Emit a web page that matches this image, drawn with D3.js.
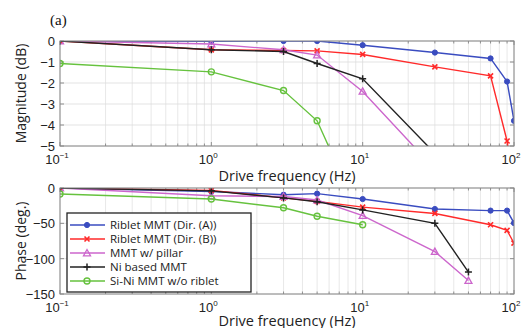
<!DOCTYPE html>
<html>
<head>
<meta charset="utf-8">
<script src="https://cdn.jsdelivr.net/npm/d3@7"></script>
<style>
  body { margin: 0; background: #fff; }
  svg { display: block; }
</style>
</head>
<body>
<div id="chart"></div>
<script>
// series labels
const seriesNames = ["Riblet MMT (Dir. (A))", "Riblet MMT (Dir. (B))", "MMT w/ pillar", "Ni based MMT", "Si-Ni MMT w/o riblet"];

// drive frequencies (Hz) per series
const freqA = [0.1, 1, 3, 5, 10, 30, 70, 90, 100];
const freqB = [0.1, 1, 3, 5, 10, 30, 70, 90, 100];
const freqPillar = [0.1, 1, 3, 5, 10, 30, 50];
const freqNi = [0.1, 1, 3, 5, 10, 30, 50];
const freqSiNi = [0.1, 1, 3, 5, 10];

// magnitude (dB)
const magA = [0, -0.02, 0, 0, -0.2, -0.55, -0.83, -1.93, -3.8];
const magB = [0, -0.42, -0.45, -0.47, -0.64, -1.23, -1.66, -4.76, -7];
const magPillar = [0, -0.14, -0.42, -0.67, -2.4, -6.1, -7.6];
const magNi = [0, -0.42, -0.5, -1.07, -1.8, -5.35, -7.2];
const magSiNi = [-1.07, -1.47, -2.36, -3.8, -8.6];

// phase (deg.)
const phaseA = [0, -5, -9.5, -8, -15.6, -29.7, -32, -32, -49.6];
const phaseB = [0, -3.3, -14, -19, -27, -36, -52, -60, -78];
const phasePillar = [0, -11, -12, -17, -39, -90, -131];
const phaseNi = [0, -4, -14, -19.4, -31, -50, -119];
const phaseSiNi = [-8.5, -15.6, -28, -40, -52];

const seriesColors = ["#3a4cc0", "#ff2a2a", "#cc66cc", "#222222", "#66c23e"];
const seriesMarkers = ["dot", "x", "tri", "plus", "circle"];

const magTicks = [0, -1, -2, -3, -4, -5];
const phaseTicks = [0, -50, -100, -150];
const decadeTicks = [0.1, 1, 10, 100];
const decadeExp = ["-1", "0", "1", "2"];

const freqs = [freqA, freqB, freqPillar, freqNi, freqSiNi];
const mags = [magA, magB, magPillar, magNi, magSiNi];
const phases = [phaseA, phaseB, phasePillar, phaseNi, phaseSiNi];

const width = 524, height = 328;
const svg = d3.select("#chart").append("svg")
    .attr("width", width)
    .attr("height", height)
    .style("font-family", "'Liberation Sans', Arial, sans-serif");

const xScale = d3.scaleLog().domain([0.1, 100]).range([60, 514]);

// minor log grid positions
let minorTicks = [];
[0.1, 1, 10].forEach(function (d) {
    for (let k = 2; k <= 9; k++) minorTicks.push(d * k);
});

function drawMarker(g, type, color) {
    if (type === "dot") {
        g.append("circle").attr("r", 2.6).attr("fill", color).attr("stroke", color);
    } else if (type === "x") {
        g.append("path").attr("d", "M-2.5,-2.5L2.5,2.5M-2.5,2.5L2.5,-2.5")
            .attr("stroke", color).attr("stroke-width", 1.6);
    } else if (type === "tri") {
        g.append("path").attr("d", "M0,-3.5L3.5,2.8L-3.5,2.8Z")
            .attr("fill", "none").attr("stroke", color).attr("stroke-width", 1.3);
    } else if (type === "plus") {
        g.append("path").attr("d", "M-3.5,0L3.5,0M0,-3.5L0,3.5")
            .attr("stroke", color).attr("stroke-width", 1.5);
    } else {
        g.append("circle").attr("r", 3).attr("fill", "none")
            .attr("stroke", color).attr("stroke-width", 1.4);
    }
}

function drawPanel(id, top, bottom, domain, ticks, values, yLabel, titleGap) {
    let yScale = d3.scaleLinear().domain(domain).range([bottom, top]);
    let g = svg.append("g");

    g.append("clipPath").attr("id", id)
        .append("rect")
        .attr("x", 60).attr("y", top)
        .attr("width", 454).attr("height", bottom - top);

    // grid
    g.append("g").selectAll("line.vmin")
        .data(minorTicks).enter().append("line")
        .attr("x1", d => xScale(d)).attr("x2", d => xScale(d))
        .attr("y1", top).attr("y2", bottom)
        .attr("stroke", "#e2e2e2").attr("stroke-width", 0.8);
    g.append("g").selectAll("line.vmaj")
        .data(decadeTicks).enter().append("line")
        .attr("x1", d => xScale(d)).attr("x2", d => xScale(d))
        .attr("y1", top).attr("y2", bottom)
        .attr("stroke", "#dcdcdc").attr("stroke-width", 0.8);
    g.append("g").selectAll("line.h")
        .data(ticks).enter().append("line")
        .attr("x1", 60).attr("x2", 514)
        .attr("y1", d => yScale(d)).attr("y2", d => yScale(d))
        .attr("stroke", "#dcdcdc").attr("stroke-width", 0.8);

    // inward ticks on all sides
    let tickG = g.append("g").attr("stroke", "#777").attr("stroke-width", 0.8);
    minorTicks.concat(decadeTicks).forEach(function (d) {
        let len = decadeTicks.includes(d) ? 4 : 2.5;
        tickG.append("line").attr("x1", xScale(d)).attr("x2", xScale(d))
            .attr("y1", bottom).attr("y2", bottom - len);
        tickG.append("line").attr("x1", xScale(d)).attr("x2", xScale(d))
            .attr("y1", top).attr("y2", top + len);
    });
    ticks.forEach(function (d) {
        tickG.append("line").attr("x1", 60).attr("x2", 64)
            .attr("y1", yScale(d)).attr("y2", yScale(d));
        tickG.append("line").attr("x1", 514).attr("x2", 510)
            .attr("y1", yScale(d)).attr("y2", yScale(d));
    });

    // series
    let lineGenerator = d3.line()
        .x(d => xScale(d.x))
        .y(d => yScale(d.y));
    let plotG = g.append("g").attr("clip-path", `url(#${id})`);
    values.forEach(function (vals, i) {
        let xyData = freqs[i].map((f, j) => ({ x: f, y: vals[j] }));
        plotG.append("path")
            .datum(xyData)
            .attr("fill", "none")
            .attr("stroke", seriesColors[i])
            .attr("stroke-width", 1.4)
            .attr("d", lineGenerator);
        xyData.forEach(function (p) {
            let m = plotG.append("g")
                .attr("transform", `translate(${xScale(p.x)},${yScale(p.y)})`);
            drawMarker(m, seriesMarkers[i], seriesColors[i]);
        });
    });

    // box
    g.append("rect")
        .attr("x", 60).attr("y", top)
        .attr("width", 454).attr("height", bottom - top)
        .attr("fill", "none").attr("stroke", "#888").attr("stroke-width", 1);

    // y tick labels
    g.append("g").selectAll("text")
        .data(ticks).enter().append("text")
        .attr("x", 55).attr("y", d => yScale(d) + 5)
        .attr("text-anchor", "end")
        .attr("font-size", "13px")
        .attr("fill", "#222")
        .text(d => d === 0 ? "0" : "\u2212" + Math.abs(d));

    // x tick labels
    decadeTicks.forEach(function (d, i) {
        let t = g.append("text")
            .attr("x", xScale(d) - 3).attr("y", bottom + 18)
            .attr("text-anchor", "middle")
            .attr("font-size", "13px")
            .attr("fill", "#222");
        t.append("tspan").text("10");
        t.append("tspan").attr("dy", -6).attr("font-size", "8px")
            .text(decadeExp[i] === "-1" ? "\u22121" : decadeExp[i]);
    });

    // axis titles
    g.append("text")
        .attr("x", 287).attr("y", bottom + titleGap)
        .attr("text-anchor", "middle")
        .attr("font-family", "'Open Sans', sans-serif")
        .attr("font-size", "14.5px")
        .attr("fill", "#222")
        .text("Drive frequency (Hz)");
    g.append("text")
        .attr("transform", `translate(26,${(top + bottom) / 2}) rotate(-90)`)
        .attr("text-anchor", "middle")
        .attr("font-family", "'Open Sans', sans-serif")
        .attr("font-size", "14px")
        .attr("fill", "#222")
        .text(yLabel);
}

drawPanel("clipMag", 41, 146, [-5, 0], magTicks, mags, "Magnitude (dB)", 35);
drawPanel("clipPhase", 188, 294, [-150, 0], phaseTicks, phases, "Phase (deg.)", 32);

// panel tag
svg.append("text")
    .attr("x", 50).attr("y", 25)
    .attr("font-family", "'Liberation Serif', 'Times New Roman', serif")
    .attr("font-size", "15px")
    .attr("fill", "#111")
    .text("(a)");

// legend
let legend = svg.append("g");
legend.append("rect")
    .attr("x", 67).attr("y", 213)
    .attr("width", 184).attr("height", 79)
    .attr("fill", "#fff").attr("stroke", "#222").attr("stroke-width", 1.3);
seriesNames.forEach(function (name, i) {
    let y = 225 + i * 14;
    legend.append("line")
        .attr("x1", 70).attr("x2", 105)
        .attr("y1", y).attr("y2", y)
        .attr("stroke", seriesColors[i]).attr("stroke-width", 1.4);
    let m = legend.append("g").attr("transform", `translate(87,${y})`);
    drawMarker(m, seriesMarkers[i], seriesColors[i]);
    legend.append("text")
        .attr("x", 110).attr("y", y + 4)
        .attr("font-family", "'Open Sans', sans-serif")
        .attr("font-size", "11.5px")
        .attr("fill", "#222")
        .text(name);
});
</script>
</body>
</html>
